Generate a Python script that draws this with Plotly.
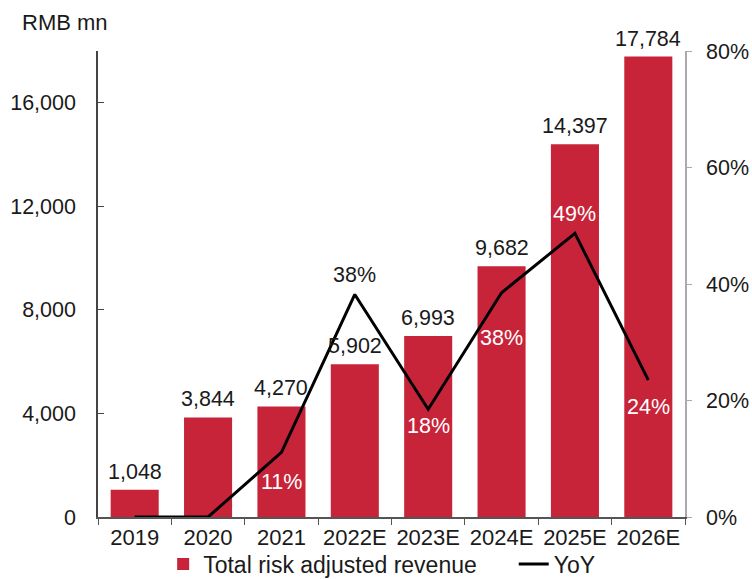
import plotly.graph_objects as go

# Annual figures
years = ["2019", "2020", "2021", "2022E", "2023E", "2024E", "2025E", "2026E"]
revenue = [1048, 3844, 4270, 5902, 6993, 9682, 14397, 17784]  # RMB mn
yoy = [0, 0, 11.1, 38.2, 18.5, 38.5, 48.7, 23.5]  # %
pct_ticks = [0, 20, 40, 60, 80]
rev_ticks = [0, 4000, 8000, 12000, 16000]

# Which growth points carry a label, where it sits (px offset) and its colour
yoy_label_shift = [None, None, -30, 19, -17, -45, 19, -27]
yoy_label_color = [None, None, "white", "#1a1a1a", "white", "white", "white", "white"]

BAR = "#C7243A"
TXT = "#1a1a1a"
FONT = "Liberation Sans, Arial, sans-serif"
GAP = "\u00a0" * 5  # extra room between the two legend entries

fig = go.Figure()
fig.add_trace(go.Bar(
    x=years, y=revenue, name="Total risk adjusted revenue" + GAP,
    marker=dict(color=BAR, line=dict(width=0)), yaxis="y",
))
fig.add_trace(go.Scatter(
    x=years, y=yoy, name="YoY", mode="lines",
    line=dict(color="black", width=3), yaxis="y2",
))

annotations = []
for i, v in enumerate(revenue):
    annotations.append(dict(
        x=i, y=v, xref="x", yref="y", text=f"{v:,}", showarrow=False,
        yanchor="bottom", yshift=4, font=dict(size=21.5, color=TXT, family=FONT),
    ))
for i, (v, s, c) in enumerate(zip(yoy, yoy_label_shift, yoy_label_color)):
    if s is None:
        continue
    annotations.append(dict(
        x=i, y=v, xref="x", yref="y2", text=f"{v:.0f}%", showarrow=False,
        yanchor="middle", yshift=s, font=dict(size=21.5, color=c, family=FONT),
    ))
annotations.append(dict(
    x=-0.133, y=1.062, xref="paper", yref="paper", text="RMB mn", showarrow=False,
    xanchor="left", yanchor="middle", font=dict(size=22, color=TXT, family=FONT),
))

fig.update_layout(
    width=752, height=579,
    margin=dict(l=98, r=67, t=51, b=62, autoexpand=False),
    paper_bgcolor="white", plot_bgcolor="white",
    font=dict(family=FONT, size=21, color=TXT),
    bargap=0.345,
    showlegend=True,
    legend=dict(
        orientation="h", x=0.111, xanchor="left",
        yref="container", y=0.026, yanchor="middle",
        font=dict(size=23, color=TXT), bgcolor="rgba(0,0,0,0)",
        itemwidth=30, tracegroupgap=0,
    ),
    xaxis=dict(
        type="category", range=[-0.5, len(years) - 0.5], automargin=False,
        showgrid=False, zeroline=False,
        showline=True, linecolor="#555", linewidth=1.5,
        ticks="outside", tickson="boundaries", ticklen=6, tickcolor="#555",
        tickangle=0, tickfont=dict(size=22, color=TXT),
    ),
    yaxis=dict(
        range=[0, 18000], tickvals=rev_ticks, automargin=False,
        ticktext=[f"{t:,}" for t in rev_ticks], showgrid=False, zeroline=False,
        showline=True, linecolor="#444", linewidth=1.5,
        ticks="inside", ticklen=6, tickcolor="#444",
        ticklabelstandoff=16, tickfont=dict(size=21.5, color=TXT),
    ),
    yaxis2=dict(
        overlaying="y", side="right", range=[0, 80], automargin=False,
        tickvals=pct_ticks, ticktext=[f"{t}%" for t in pct_ticks],
        showgrid=False, zeroline=False,
        showline=True, linecolor="#aaa", linewidth=1.5,
        ticks="outside", ticklen=5, tickcolor="#aaa",
        ticklabelstandoff=10, tickfont=dict(size=21.5, color=TXT),
    ),
    annotations=annotations,
)

fig.write_html("out.html")
